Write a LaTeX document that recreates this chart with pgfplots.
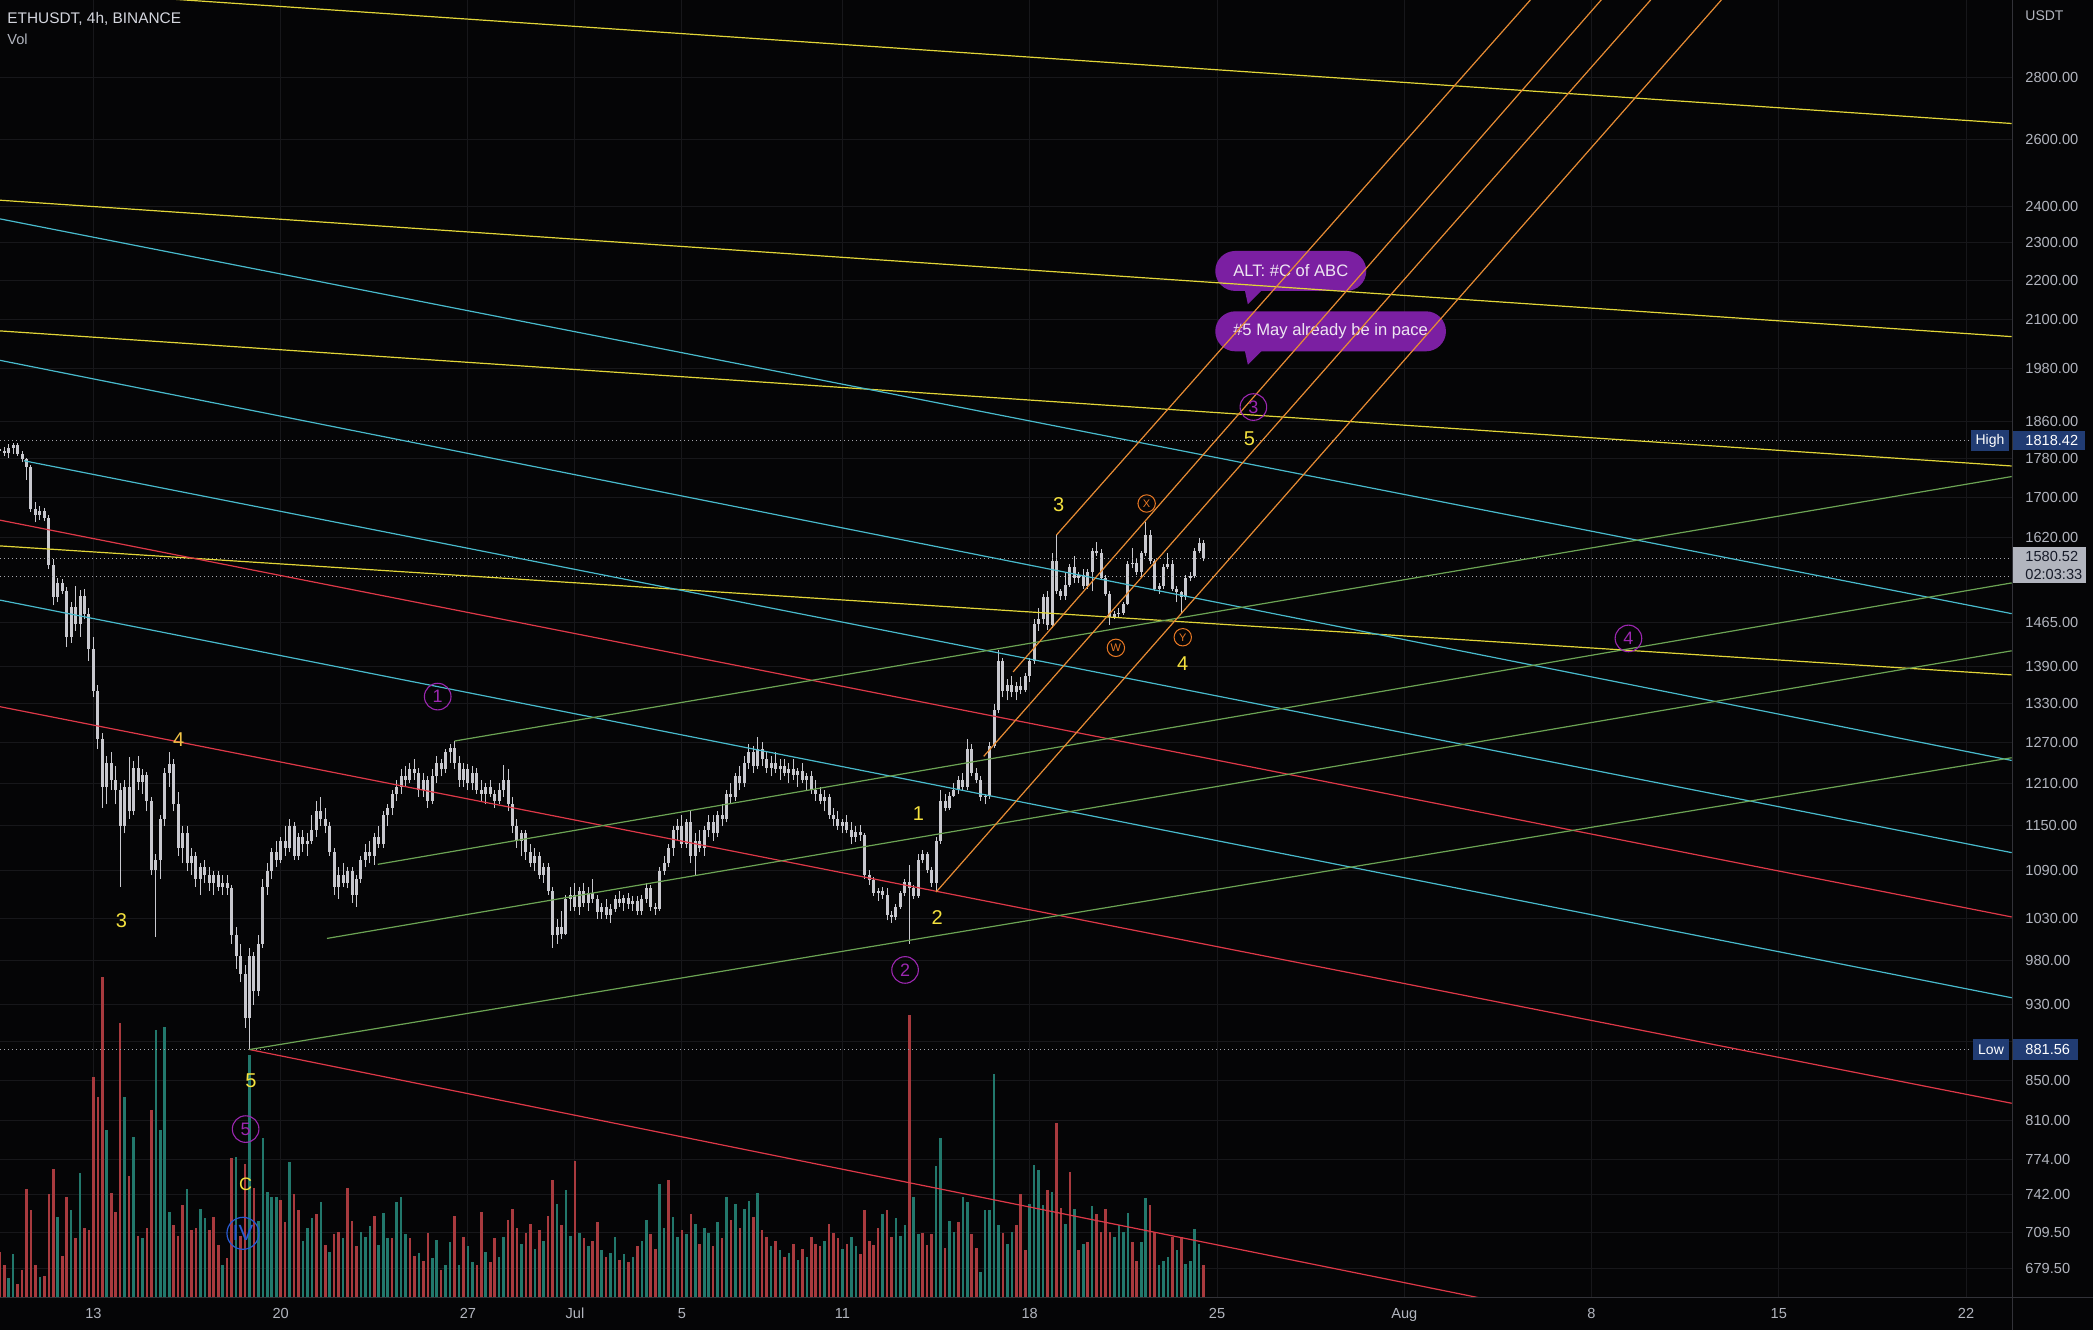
\documentclass[border=0pt]{standalone}
\usepackage{pgfplots}
\pgfplotsset{compat=1.18}
\usepackage{pgfplotstable}
\usepackage{fontspec}
\setmainfont{Liberation Sans}
\newcommand\fs[1]{\fontsize{#1}{#1}\selectfont}
\definecolor{bg}{RGB}{5,5,6}
\definecolor{gridc}{RGB}{23,23,26}
\definecolor{axtext}{RGB}{178,181,190}
\definecolor{sepc}{RGB}{50,50,56}
\definecolor{candle}{RGB}{200,200,206}
\definecolor{volred}{RGB}{168,58,62}
\definecolor{volgreen}{RGB}{34,120,108}
\definecolor{lyellow}{RGB}{226,214,56}
\definecolor{lcyan}{RGB}{72,186,204}
\definecolor{lred}{RGB}{222,56,72}
\definecolor{lgreen}{RGB}{108,164,84}
\definecolor{lorange}{RGB}{232,140,52}
\definecolor{wyellow}{RGB}{245,226,62}
\definecolor{wamber}{RGB}{242,196,70}
\definecolor{wpurple}{RGB}{156,39,176}
\definecolor{worange}{RGB}{232,120,36}
\definecolor{wblue}{RGB}{40,90,210}
\definecolor{bubble}{RGB}{123,31,162}
\definecolor{bubtext}{RGB}{238,230,242}
\definecolor{tagblue}{RGB}{33,60,115}
\definecolor{dotc}{RGB}{165,165,172}
\definecolor{pricebox}{RGB}{178,181,190}
\definecolor{pricetext}{RGB}{22,26,40}
\definecolor{titlec}{RGB}{212,214,222}

\pgfplotstableread{
o h l c v u
1800 1816 1790 1795 34 0
1795 1805 1785 1792 24 0
1792 1810 1782 1802 14 1
1802 1812 1790 1808 32 1
1808 1812 1786 1790 10 0
1790 1796 1772 1778 20 0
1778 1782 1736 1762 81 0
1762 1766 1670 1676 65 0
1676 1690 1650 1664 24 0
1664 1682 1655 1672 15 1
1672 1678 1652 1658 16 0
1658 1664 1560 1568 77 0
1568 1580 1495 1510 96 0
1510 1545 1500 1535 60 1
1535 1542 1515 1520 31 0
1520 1528 1422 1440 75 0
1440 1500 1430 1492 65 1
1492 1530 1450 1462 44 0
1462 1522 1440 1512 93 1
1512 1525 1470 1480 52 0
1480 1490 1400 1420 50 0
1420 1440 1340 1350 165 0
1350 1360 1260 1275 150 0
1275 1285 1175 1205 240 0
1205 1250 1180 1240 125 1
1240 1255 1200 1215 78 0
1215 1235 1180 1200 64 0
1200 1210 1070 1150 205 0
1150 1215 1140 1205 150 1
1205 1248 1160 1170 91 0
1170 1242 1165 1232 120 1
1232 1250 1200 1212 46 0
1212 1230 1195 1222 44 1
1222 1226 1170 1185 52 0
1185 1190 1085 1092 140 0
1092 1112 1008 1105 200 1
1105 1165 1080 1160 125 1
1160 1232 1150 1225 202 1
1225 1255 1205 1238 64 1
1238 1245 1170 1180 54 0
1180 1198 1110 1120 46 0
1120 1150 1100 1140 69 0
1140 1150 1090 1100 81 1
1100 1120 1085 1110 50 0
1110 1115 1070 1080 52 0
1080 1100 1060 1095 66 1
1095 1105 1075 1085 59 1
1085 1095 1065 1075 50 0
1075 1090 1060 1085 60 0
1085 1090 1065 1070 39 0
1070 1085 1060 1075 24 1
1075 1085 1060 1068 29 0
1068 1072 1000 1010 104 0
1010 1020 970 985 105 1
985 1000 955 965 46 0
965 975 905 915 100 0
915 995 881.56 985 181 1
985 990 930 945 82 0
945 1010 940 1000 57 1
1000 1080 995 1070 119 1
1070 1100 1060 1090 79 1
1090 1120 1080 1115 75 1
1115 1130 1095 1105 75 1
1105 1135 1100 1130 73 0
1130 1150 1110 1120 56 0
1120 1160 1115 1150 101 1
1150 1155 1105 1110 77 0
1110 1140 1105 1135 65 0
1135 1145 1115 1125 42 1
1125 1140 1110 1130 52 1
1130 1165 1125 1145 59 1
1145 1185 1135 1170 62 0
1170 1190 1150 1160 71 1
1160 1175 1140 1150 39 0
1150 1155 1110 1115 34 1
1115 1120 1060 1070 47 0
1070 1095 1055 1085 49 0
1085 1100 1070 1075 44 1
1075 1095 1068 1090 82 0
1090 1095 1050 1060 57 0
1060 1085 1045 1080 38 0
1080 1110 1075 1105 49 1
1105 1125 1095 1115 45 1
1115 1130 1100 1110 53 1
1110 1140 1098 1135 61 0
1135 1150 1120 1125 39 1
1125 1170 1120 1165 63 1
1165 1180 1150 1175 44 1
1175 1200 1165 1195 44 0
1195 1215 1185 1205 71 1
1205 1230 1195 1220 75 1
1220 1235 1205 1215 47 1
1215 1240 1210 1230 44 0
1230 1245 1215 1225 31 0
1225 1232 1190 1200 33 1
1200 1225 1190 1215 27 0
1215 1220 1175 1185 48 0
1185 1230 1180 1220 29 1
1220 1250 1210 1240 43 1
1240 1245 1220 1230 20 0
1230 1260 1225 1255 24 1
1255 1268 1240 1262 41 1
1262 1272 1230 1240 61 0
1240 1250 1205 1215 24 1
1215 1240 1205 1230 45 0
1230 1238 1200 1210 38 1
1210 1235 1200 1225 26 1
1225 1232 1195 1200 24 0
1200 1215 1185 1195 64 0
1195 1210 1180 1205 34 1
1205 1215 1190 1195 26 0
1195 1200 1175 1185 44 0
1185 1210 1180 1200 30 1
1200 1237 1190 1215 45 1
1215 1230 1170 1180 58 0
1180 1190 1140 1150 66 0
1150 1160 1120 1130 52 0
1130 1145 1110 1140 40 1
1140 1145 1105 1115 48 0
1115 1125 1095 1100 55 0
1100 1120 1090 1110 36 1
1110 1115 1080 1085 50 0
1085 1100 1075 1095 42 1
1095 1100 1060 1065 61 0
1065 1070 995 1010 88 0
1010 1030 1000 1020 70 1
1020 1040 1005 1012 54 0
1012 1060 1010 1055 80 1
1055 1070 1040 1060 46 1
1060 1075 1040 1045 102 0
1045 1070 1035 1065 48 1
1065 1075 1045 1050 44 0
1050 1070 1040 1062 38 1
1062 1080 1050 1055 42 0
1055 1060 1030 1038 56 0
1038 1050 1030 1045 35 1
1045 1055 1030 1035 30 0
1035 1048 1025 1042 33 1
1042 1060 1038 1055 45 1
1055 1065 1045 1050 28 0
1050 1060 1040 1056 32 1
1056 1062 1042 1048 26 0
1048 1058 1040 1052 30 1
1052 1058 1035 1040 38 0
1040 1060 1035 1055 42 1
1055 1075 1050 1068 58 1
1068 1072 1040 1045 47 0
1045 1050 1035 1042 36 0
1042 1095 1040 1090 85 1
1090 1110 1085 1100 52 1
1100 1125 1095 1120 88 0
1120 1150 1110 1145 60 1
1145 1160 1130 1150 45 1
1150 1165 1120 1125 50 0
1125 1160 1120 1155 47 1
1155 1170 1100 1110 62 0
1110 1140 1085 1130 55 1
1130 1145 1115 1120 40 0
1120 1150 1110 1145 52 1
1145 1165 1135 1155 48 1
1155 1165 1130 1140 38 0
1140 1170 1135 1165 56 1
1165 1180 1150 1160 44 0
1160 1200 1155 1195 75 1
1195 1210 1180 1190 58 0
1190 1225 1185 1220 70 1
1220 1235 1200 1210 52 0
1210 1250 1205 1240 66 1
1240 1268 1230 1255 72 1
1255 1265 1225 1235 60 0
1235 1278 1230 1260 78 1
1260 1270 1235 1245 50 0
1245 1255 1225 1232 45 0
1232 1250 1220 1240 38 1
1240 1255 1225 1230 42 0
1230 1245 1215 1235 35 1
1235 1245 1220 1225 30 0
1225 1240 1210 1230 33 1
1230 1245 1215 1222 40 0
1222 1232 1205 1228 28 1
1228 1240 1210 1215 36 0
1215 1225 1200 1220 30 1
1220 1228 1195 1200 45 0
1200 1215 1185 1195 40 0
1195 1205 1180 1185 38 0
1185 1200 1170 1190 42 1
1190 1195 1160 1165 55 0
1165 1175 1150 1160 48 0
1160 1170 1145 1150 44 0
1150 1160 1140 1155 36 1
1155 1165 1140 1145 40 0
1145 1155 1125 1135 45 1
1135 1150 1128 1142 38 1
1142 1152 1130 1138 32 0
1138 1140 1080 1085 65 0
1085 1092 1072 1078 42 0
1078 1082 1058 1062 39 0
1062 1068 1052 1065 52 0
1065 1070 1055 1060 62 1
1060 1068 1028 1035 65 0
1035 1040 1025 1032 45 0
1032 1048 1028 1045 59 1
1045 1065 1042 1062 46 1
1062 1080 1058 1076 54 1
1076 1098 1000 1068 211 0
1068 1072 1055 1058 75 1
1058 1112 1056 1105 47 1
1105 1118 1100 1112 48 0
1112 1115 1088 1092 39 0
1092 1095 1070 1075 47 0
1075 1135 1063 1130 98 1
1130 1200 1126 1185 119 1
1185 1195 1170 1175 37 0
1175 1198 1172 1192 57 1
1192 1210 1190 1200 49 1
1200 1220 1195 1215 56 0
1215 1225 1200 1205 75 1
1205 1275 1200 1260 71 1
1260 1268 1220 1225 47 0
1225 1232 1210 1215 37 0
1215 1220 1185 1190 19 1
1190 1195 1180 1192 65 1
1192 1270 1188 1265 65 1
1265 1330 1262 1320 167 1
1320 1418 1315 1400 54 1
1400 1405 1340 1350 48 0
1350 1370 1335 1360 40 1
1360 1375 1340 1348 49 1
1348 1365 1335 1358 54 0
1358 1372 1345 1352 77 0
1352 1380 1348 1375 35 0
1375 1405 1365 1400 70 1
1400 1470 1395 1462 99 1
1462 1490 1450 1470 95 1
1470 1515 1462 1510 69 1
1510 1520 1452 1460 80 0
1460 1590 1455 1575 79 1
1575 1625 1515 1520 130 0
1520 1525 1505 1512 67 0
1512 1555 1505 1532 55 1
1532 1570 1528 1565 94 0
1565 1585 1535 1545 66 1
1545 1555 1535 1550 35 0
1550 1560 1525 1530 40 1
1530 1560 1525 1555 41 0
1555 1600 1520 1595 68 1
1595 1612 1585 1590 62 0
1590 1598 1540 1545 49 0
1545 1550 1512 1515 66 0
1515 1520 1460 1475 49 0
1475 1485 1470 1480 45 1
1480 1490 1475 1482 54 1
1482 1500 1478 1498 49 1
1498 1575 1495 1570 63 1
1570 1600 1562 1572 41 0
1572 1580 1550 1555 27 0
1555 1595 1545 1590 41 1
1590 1650 1585 1625 74 1
1625 1635 1570 1575 69 0
1575 1580 1520 1525 49 0
1525 1535 1515 1530 24 1
1530 1570 1525 1565 27 1
1565 1590 1560 1570 30 1
1570 1578 1520 1525 45 0
1525 1530 1500 1518 35 1
1518 1520 1482 1510 45 0
1510 1550 1505 1545 25 1
1545 1555 1538 1548 27 1
1548 1600 1545 1595 51 1
1595 1620 1590 1610 40 1
1610 1615 1575 1580.52 24 0
}\candles

\pgfplotsset{chartaxis/.style={
  scale only axis, width=1006pt, height=648.5pt,
  at={(0pt,16.5pt)}, anchor=south west,
  xmin=9.508, xmax=84.72}}
\tikzset{
  wl/.style={font=\fs{10}, text=wyellow, inner sep=0pt},
  pc/.style={circle, draw=wpurple, line width=0.55pt, minimum size=13.3pt, inner sep=0pt, text=wpurple, font=\fs{9}},
  oc/.style={circle, draw=worange, line width=0.5pt, minimum size=8.7pt, inner sep=0pt, text=worange, font=\fs{5.5}},
  bc/.style={circle, draw=wblue, line width=0.6pt, minimum size=16pt, inner sep=0pt, text=wblue, font=\fs{11}},
  bub/.style={fill=bubble, rounded corners=10pt, minimum height=20pt, inner xsep=9pt, inner ysep=0pt, text=bubtext, font=\fs{8.3}, anchor=west},
  ln/.style={line width=0.6pt},
  dotl/.style={draw=dotc, line width=0.5pt, dash pattern=on 0.6pt off 1.4pt}
}

\begin{document}
\begin{tikzpicture}
\useasboundingbox (0,0) rectangle (1046.5pt,665pt);
\fill[bg] (0,0) rectangle (1046.5pt,665pt);

% price grid and tick labels, bubbles
\begin{axis}[chartaxis, ymode=log, ymin=657, ymax=3069.4,
  axis line style={draw=none}, major tick length=0pt,
  xmajorgrids, ymajorgrids, major grid style={draw=gridc, line width=0.5pt},
  xtick={13,20,27,31,35,41,48,55,62,69,76,83},
  xticklabels={13,20,27,Jul,5,11,18,25,Aug,8,15,22},
  ytick={679.5,709.5,742,774,810,850,890,930,980,1030,1090,1150,1210,1270,1330,1390,1465,1620,1700,1780,1860,1980,2100,2200,2300,2400,2600,2800},
  yticklabels={679.50,709.50,742.00,774.00,810.00,850.00,{},930.00,980.00,1030.00,1090.00,1150.00,1210.00,1270.00,1330.00,1390.00,1465.00,1620.00,1700.00,1780.00,1860.00,1980.00,2100.00,2200.00,2300.00,2400.00,2600.00,2800.00},
  yticklabel pos=right,
  xticklabel style={font=\fs{7.3}, text=axtext, anchor=base, yshift=-10.6pt, inner sep=0pt},
  yticklabel style={font=\fs{7.3}, text=axtext, anchor=west, xshift=6.5pt, inner sep=0pt},
]
\node[bub] (b1) at (axis cs:54.92,2224) {ALT: \#C of ABC};
\fill[bubble] ([xshift=15pt,yshift=0.5pt]b1.south west) -- ++(1.5pt,-7pt) -- ++(7pt,7pt) -- cycle;
\node[bub] (b2) at (axis cs:54.92,2070) {\#5 May already be in pace};
\fill[bubble] ([xshift=15pt,yshift=0.5pt]b2.south west) -- ++(1.5pt,-7pt) -- ++(7pt,7pt) -- cycle;
\end{axis}

% volume
\begin{axis}[chartaxis, hide axis, ymin=0, ymax=971.7]
\addplot[ycomb, mark=none, line width=1.3pt, draw=volgreen]
  table[x expr={9.5+\coordindex/6}, y expr={\thisrow{v}*\thisrow{u}}] {\candles};
\addplot[ycomb, mark=none, line width=1.3pt, draw=volred]
  table[x expr={9.5+\coordindex/6}, y expr={\thisrow{v}*(1-\thisrow{u})}] {\candles};
\end{axis}

% candles (linear in ln price, same extent as the log axis)
\begin{axis}[chartaxis, hide axis, ymin=6.487684, ymax=8.029238]
\addplot[draw=none, mark=none, error bars/.cd, y dir=plus, y explicit, error mark=none,
  error bar style={line width=0.5pt, draw=candle, solid}]
  table[x expr={9.5+\coordindex/6}, y expr={ln(\thisrow{l})},
        y error plus expr={ln(\thisrow{h})-ln(\thisrow{l})}] {\candles};
\addplot[draw=none, mark=none, error bars/.cd, y dir=plus, y explicit, error mark=none,
  error bar style={line width=1.5pt, draw=candle, solid}]
  table[x expr={9.5+\coordindex/6}, y expr={ln(min(\thisrow{o},\thisrow{c}))},
        y error plus expr={max(abs(ln(\thisrow{c})-ln(\thisrow{o})),0.0012)}] {\candles};
\end{axis}

% drawings
\begin{axis}[chartaxis, hide axis, ymode=log, ymin=657, ymax=3069.4]
\addplot[dotl] coordinates {(9.508,1818.42) (83.21,1818.42)};
\addplot[dotl] coordinates {(9.508,881.56) (83.21,881.56)};
\addplot[dotl] coordinates {(9.508,1580.52) (84.72,1580.52)};
\addplot[dotl] coordinates {(9.508,1546) (84.72,1546)};
% yellow
\addplot[ln, lyellow] coordinates {(9.508,3115) (84.706,2650)};
\addplot[ln, lyellow] coordinates {(9.508,2419) (84.706,2057)};
\addplot[ln, lyellow] coordinates {(9.508,2071) (84.706,1764)};
\addplot[ln, lyellow] coordinates {(9.508,1604) (84.706,1376)};
% cyan
\addplot[ln, lcyan] coordinates {(9.508,2366) (84.706,1480)};
\addplot[ln, lcyan] coordinates {(9.508,2000) (84.706,1243)};
\addplot[ln, lcyan] coordinates {(10.406,1775) (84.706,1114)};
\addplot[ln, lcyan] coordinates {(9.508,1504) (84.706,937.5)};
% red
\addplot[ln, lred] coordinates {(9.508,1654) (84.706,1032)};
\addplot[ln, lred] coordinates {(9.508,1325) (84.706,827)};
\addplot[ln, lred] coordinates {(18.833,881.56) (84.706,577.6)};
% green
\addplot[ln, lgreen] coordinates {(26.5,1272) (84.706,1742)};
\addplot[ln, lgreen] coordinates {(23.63,1098.6) (84.706,1535)};
\addplot[ln, lgreen] coordinates {(21.73,1006) (84.706,1416)};
\addplot[ln, lgreen] coordinates {(18.833,881.56) (84.706,1247)};
% orange channel
\addplot[ln, lorange] coordinates {(49.0,1625) (68.06,3221)};
\addplot[ln, lorange] coordinates {(47.38,1381) (70.69,3221)};
\addplot[ln, lorange] coordinates {(46.28,1249) (72.55,3221)};
\addplot[ln, lorange] coordinates {(44.5,1063) (75.19,3221)};
% wave labels
\node[wl] at (axis cs:14.05,1028) {3};
\node[wl, text=wamber] at (axis cs:16.19,1274) {4};
\node[wl] at (axis cs:18.89,849) {5};
\node[pc] at (axis cs:18.69,802) {5};
\node[wl, font=\fs{9}] at (axis cs:18.69,751) {C};
\node[bc] at (axis cs:18.59,708.6) {IV};
\node[pc] at (axis cs:25.87,1341) {1};
\node[wl] at (axis cs:43.84,1167) {1};
\node[wl] at (axis cs:44.54,1031) {2};
\node[pc] at (axis cs:43.34,969) {2};
\node[wl] at (axis cs:49.08,1685) {3};
\node[oc] at (axis cs:52.37,1687) {X};
\node[oc] at (axis cs:51.22,1421) {W};
\node[oc] at (axis cs:53.72,1439) {Y};
\node[wl] at (axis cs:53.72,1395) {4};
\node[pc] at (axis cs:56.36,1892) {3};
\node[wl] at (axis cs:56.21,1821) {5};
\node[pc] at (axis cs:70.38,1437) {4};
\end{axis}

% frame separators
\draw[sepc, line width=0.5pt] (1006pt,0) -- (1006pt,665pt);
\draw[sepc, line width=0.5pt] (0,16.5pt) -- (1046.5pt,16.5pt);

% header texts
\node[anchor=west, inner sep=0pt, text=titlec, font=\fs{7.7}] at (3.5pt,655.5pt) {ETHUSDT, 4h, BINANCE};
\node[anchor=west, inner sep=0pt, text=axtext, font=\fs{7.3}] at (3.5pt,645.5pt) {Vol};
\node[anchor=west, inner sep=0pt, text=axtext, font=\fs{7}] at (1012.5pt,657pt) {USDT};

% price tags
\fill[tagblue] (985.5pt,439.5pt) rectangle (1004.5pt,450pt);
\node[inner sep=0pt, text=white, font=\fs{7}] at (995pt,444.8pt) {High};
\fill[tagblue] (1006.5pt,440pt) rectangle (1042.5pt,449.6pt);
\node[anchor=west, inner sep=0pt, text=white, font=\fs{7.3}] at (1012.5pt,444.8pt) {1818.42};
\fill[tagblue] (986.5pt,135pt) rectangle (1004.5pt,145.5pt);
\node[inner sep=0pt, text=white, font=\fs{7}] at (995.5pt,140.2pt) {Low};
\fill[tagblue] (1006.5pt,135pt) rectangle (1039pt,145.5pt);
\node[anchor=west, inner sep=0pt, text=white, font=\fs{7.3}] at (1012.5pt,140.2pt) {881.56};
\fill[pricebox] (1006.5pt,373.5pt) rectangle (1043pt,391.5pt);
\node[anchor=west, inner sep=0pt, text=pricetext, font=\fs{7.3}] at (1012.5pt,386.8pt) {1580.52};
\node[anchor=west, inner sep=0pt, text=pricetext, font=\fs{7.3}] at (1012.5pt,377.8pt) {02:03:33};
\end{tikzpicture}
\end{document}
